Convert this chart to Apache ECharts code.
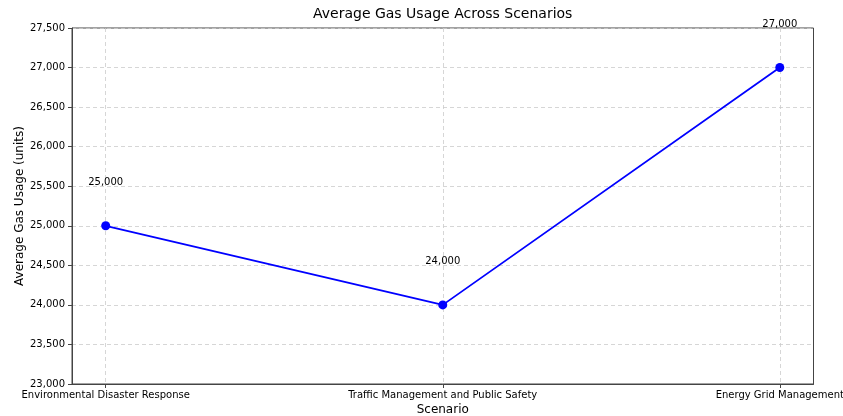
<!DOCTYPE html>
<html><head><meta charset="utf-8">
<script src="https://cdn.jsdelivr.net/npm/echarts@6/dist/echarts.min.js"></script>
<style>html,body{margin:0;padding:0;background:#fff}#c{width:843px;height:416px}</style>
</head><body><div id="c"></div>
<script>
const categories = ["Environmental Disaster Response", "Traffic Management and Public Safety", "Energy Grid Management"];
const gasUsage = [25000, 24000, 27000];
const yTicks = [23000, 23500, 24000, 24500, 25000, 25500, 26000, 26500, 27000, 27500];

const FONT = "DejaVu Sans";
const fmt = v => Number(v).toLocaleString('en-US');
const chart = echarts.init(document.getElementById('c'), null, {renderer: 'canvas'});
chart.setOption({
  animation: false,
  textStyle: {fontFamily: FONT},
  title: {text: 'Average Gas Usage Across Scenarios', left: 313, top: 7, padding: 0,
    textStyle: {fontFamily: FONT, fontSize: 14, fontWeight: 'normal', color: '#000'}},
  grid: {left: 72, right: 29.5, top: 28, bottom: 32, containLabel: false, outerBoundsMode: 'none',
    show: true, borderColor: '#444', borderWidth: 1, backgroundColor: 'transparent'},
  xAxis: {
    type: 'value', min: -0.1, max: 2.1,
    name: 'Scenario', nameLocation: 'middle', nameGap: 20, nameMoveOverlap: false,
    nameTextStyle: {fontFamily: FONT, fontSize: 12, color: '#000'},
    axisLine: {show: true, onZero: false, lineStyle: {color: '#444', width: 1}},
    axisTick: {show: true, length: 4, customValues: [0, 1, 2], lineStyle: {color: '#444'}},
    axisLabel: {customValues: [0, 1, 2], margin: 6, fontFamily: FONT, fontSize: 10, color: '#000',
      formatter: v => categories[Math.round(v)] || ''},
    splitLine: {show: true, lineStyle: {color: '#cccccc', type: [4, 3], width: 0.8}}
  },
  yAxis: {
    type: 'value', min: yTicks[0], max: yTicks[yTicks.length - 1], interval: 500,
    name: 'Average Gas Usage (units)', nameLocation: 'middle', nameGap: 46, nameMoveOverlap: false,
    nameTextStyle: {fontFamily: FONT, fontSize: 12, color: '#000'},
    axisLine: {show: true, onZero: false, lineStyle: {color: '#444', width: 1}},
    axisTick: {show: true, length: 4, lineStyle: {color: '#444'}},
    axisLabel: {margin: 7, fontFamily: FONT, fontSize: 10, color: '#000', formatter: fmt},
    splitLine: {show: true, lineStyle: {color: '#cccccc', type: [4, 3], width: 0.8}}
  },
  series: [{
    type: 'line',
    data: gasUsage.map((v, i) => [i, v]),
    symbol: 'circle', symbolSize: 9,
    lineStyle: {color: '#0000ff', width: 1.8},
    itemStyle: {color: '#0000ff'},
    label: {show: true, position: 'top', distance: 34, fontFamily: FONT, fontSize: 10, color: '#000',
      formatter: p => fmt(p.value[1])},
    clip: false
  }]
});
</script></body></html>
